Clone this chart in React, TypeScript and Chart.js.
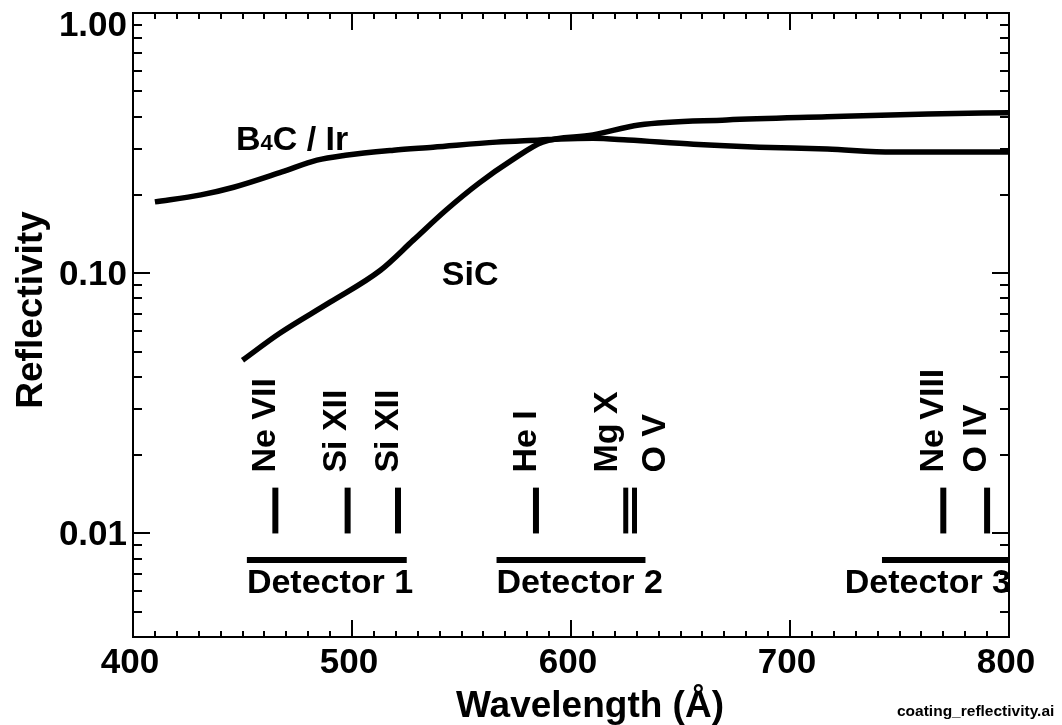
import React, { useEffect, useRef } from "react";
import { Chart, registerables } from "chart.js";

Chart.register(...registerables);

// ---------------- data ----------------
const B4C_WAVELENGTH = [410, 431, 446, 468, 484, 497, 519, 537, 566, 586, 595, 610, 626, 656, 686, 717, 747, 800];
const B4C_REFLECTIVITY = [0.188, 0.2, 0.214, 0.245, 0.272, 0.284, 0.297, 0.305, 0.319, 0.325, 0.328, 0.33, 0.325, 0.313, 0.305, 0.3, 0.292, 0.292];

const SIC_WAVELENGTH = [450, 467, 490, 513, 528, 543, 558, 573, 587, 610, 631, 671, 717, 763, 800];
const SIC_REFLECTIVITY = [0.0463, 0.0588, 0.0774, 0.1027, 0.134, 0.175, 0.222, 0.272, 0.319, 0.34, 0.371, 0.388, 0.399, 0.409, 0.414];

const LINE_NAMES = ["Ne VII", "Si XII", "Si XII", "He I", "Mg X", "O V", "Ne VIII", "O IV"];
const LINE_WAVELENGTHS = [465, 498, 521, 584, 625, 629, 770, 790];
const LINE_BOTTOM = 0.01;
const LINE_TOP = 0.015;

const DETECTOR_NAMES = ["Detector 1", "Detector 2", "Detector 3"];
const DETECTOR_START = [452, 566, 742];
const DETECTOR_END = [525, 634, 800];
const DETECTOR_LEVEL = 0.0079;

const X_MIN = 400;
const X_MAX = 800;
const X_TICKS = [400, 500, 600, 700, 800];
const X_TICK_LABELS = ["400", "500", "600", "700", "800"];
const Y_MIN = 0.004;
const Y_MAX = 1.0;
const Y_TICKS = [1.0, 0.1, 0.01];
const Y_TICK_LABELS = ["1.00", "0.10", "0.01"];

const CURVE_LABEL_B4C = { x: 447, y: 0.297 };
const CURVE_LABEL_SIC = { x: 541, y: 0.0899 };

const X_TITLE = "Wavelength (Å)";
const Y_TITLE = "Reflectivity";
const FILE_NAME = "coating_reflectivity.ai";

// ---------------- styles ----------------
const FONT = "'Liberation Sans', Arial, Helvetica, sans-serif";
const LABEL_NUDGE = [0, -2, 0, 0, -9, 30, 0, -1];
const LINE_WIDTHS = [6, 6, 6, 6, 5, 5, 6, 6];

const annotations = {
  id: "annotations",
  afterDraw(chart: any) {
    const ctx = chart.ctx as CanvasRenderingContext2D;
    const xs = chart.scales.x;
    const ys = chart.scales.y;
    const { left, right, top, bottom } = chart.chartArea;
    ctx.save();
    ctx.fillStyle = "#000";
    ctx.strokeStyle = "#000";

    // frame
    ctx.lineWidth = 2;
    ctx.strokeRect(left, top, right - left, bottom - top);

    // x ticks (bottom & top, inward)
    ctx.lineWidth = 2;
    for (let v = X_MIN + 10; v < X_MAX; v += 10) {
      const px = Math.round(xs.getPixelForValue(v)) + 0.0;
      const len = v % 100 === 0 ? 17 : 6;
      ctx.beginPath();
      ctx.moveTo(px, bottom);
      ctx.lineTo(px, bottom - len);
      ctx.moveTo(px, top);
      ctx.lineTo(px, top + len);
      ctx.stroke();
    }
    // y ticks (left & right, inward)
    for (let d = 0.001; d <= 1.0001; d *= 10) {
      for (let m = 1; m <= 9; m++) {
        const v = m * d;
        if (v < Y_MIN * 0.999 || v > Y_MAX * 1.001) continue;
        const py = Math.round(ys.getPixelForValue(v));
        if (py <= top + 1 || py >= bottom - 1) continue;
        const len = m === 1 ? 17 : 9;
        ctx.beginPath();
        ctx.moveTo(left, py);
        ctx.lineTo(left + len, py);
        ctx.moveTo(right, py);
        ctx.lineTo(right - len, py);
        ctx.stroke();
      }
    }

    // tick labels
    ctx.font = `bold 35px ${FONT}`;
    ctx.textAlign = "center";
    ctx.textBaseline = "alphabetic";
    X_TICKS.forEach((v, i) => {
      ctx.fillText(X_TICK_LABELS[i], xs.getPixelForValue(v) - 3, bottom + 36);
    });
    ctx.textAlign = "right";
    Y_TICKS.forEach((v, i) => {
      const py = Math.max(ys.getPixelForValue(v), top + 11);
      ctx.fillText(Y_TICK_LABELS[i], left - 6, py + 12);
    });

    // axis titles
    ctx.font = `bold 37px ${FONT}`;
    ctx.textAlign = "center";
    ctx.fillText(X_TITLE, 590, 717);
    ctx.save();
    ctx.translate(42, 310);
    ctx.rotate(-Math.PI / 2);
    ctx.fillText(Y_TITLE, 0, 0);
    ctx.restore();

    // emission line labels (rotated)
    ctx.font = `bold 34px ${FONT}`;
    ctx.textAlign = "left";
    const lineTopPx = ys.getPixelForValue(LINE_TOP);
    LINE_NAMES.forEach((name, i) => {
      const px = xs.getPixelForValue(LINE_WAVELENGTHS[i]) + LABEL_NUDGE[i];
      ctx.save();
      ctx.translate(px, lineTopPx - 15);
      ctx.rotate(-Math.PI / 2);
      ctx.fillText(name, 0, 0);
      ctx.restore();
    });

    // detector labels
    const detPy = ys.getPixelForValue(DETECTOR_LEVEL);
    DETECTOR_NAMES.forEach((name, i) => {
      if (i === DETECTOR_NAMES.length - 1) {
        ctx.textAlign = "right";
        ctx.fillText(name, xs.getPixelForValue(DETECTOR_END[i]) + 2, detPy + 33);
      } else {
        ctx.textAlign = "left";
        ctx.fillText(name, xs.getPixelForValue(DETECTOR_START[i]), detPy + 33);
      }
    });

    // curve labels
    ctx.textAlign = "left";
    let bx = xs.getPixelForValue(CURVE_LABEL_B4C.x);
    const by = ys.getPixelForValue(CURVE_LABEL_B4C.y);
    ctx.font = `bold 34px ${FONT}`;
    ctx.fillText("B", bx, by);
    bx += ctx.measureText("B").width;
    ctx.font = `bold 22px ${FONT}`;
    ctx.fillText("4", bx, by);
    bx += ctx.measureText("4").width;
    ctx.font = `bold 34px ${FONT}`;
    ctx.fillText("C / Ir", bx, by);

    ctx.fillText("SiC", xs.getPixelForValue(CURVE_LABEL_SIC.x), ys.getPixelForValue(CURVE_LABEL_SIC.y));

    // file name
    ctx.font = `bold 15.5px ${FONT}`;
    ctx.fillText(FILE_NAME, 897, 716);

    ctx.restore();
  },
};

function toPoints(xs: number[], ys: number[]) {
  return xs.map((x, i) => ({ x, y: ys[i] }));
}

export default function App() {
  const ref = useRef<HTMLCanvasElement>(null);

  useEffect(() => {
    const datasets: any[] = [
      {
        label: "B4C / Ir",
        data: toPoints(B4C_WAVELENGTH, B4C_REFLECTIVITY),
        borderColor: "#000",
        borderWidth: 5.5,
        pointRadius: 0,
        cubicInterpolationMode: "monotone",
        borderCapStyle: "butt",
      },
      {
        label: "SiC",
        data: toPoints(SIC_WAVELENGTH, SIC_REFLECTIVITY),
        borderColor: "#000",
        borderWidth: 5.5,
        pointRadius: 0,
        cubicInterpolationMode: "monotone",
        borderCapStyle: "butt",
      },
    ];
    LINE_WAVELENGTHS.forEach((w, i) => {
      datasets.push({
        label: LINE_NAMES[i],
        data: [
          { x: w, y: LINE_BOTTOM },
          { x: w, y: LINE_TOP },
        ],
        borderColor: "#000",
        borderWidth: LINE_WIDTHS[i],
        pointRadius: 0,
        borderCapStyle: "butt",
      });
    });
    DETECTOR_NAMES.forEach((name, i) => {
      datasets.push({
        label: name,
        data: [
          { x: DETECTOR_START[i], y: DETECTOR_LEVEL },
          { x: DETECTOR_END[i], y: DETECTOR_LEVEL },
        ],
        borderColor: "#000",
        borderWidth: 6,
        pointRadius: 0,
        borderCapStyle: "butt",
      });
    });

    const chart = new Chart(ref.current!, {
      type: "line",
      data: { datasets },
      options: {
        animation: false,
        responsive: false,
        maintainAspectRatio: false,
        layout: { padding: { left: 133, top: 13, right: 53, bottom: 88 } },
        plugins: { legend: { display: false }, tooltip: { enabled: false } },
        scales: {
          x: { type: "linear", min: X_MIN, max: X_MAX, display: false },
          y: { type: "logarithmic", min: Y_MIN, max: Y_MAX, display: false },
        },
      },
      plugins: [annotations],
    });
    return () => chart.destroy();
  }, []);

  return (
    <div style={{ position: "fixed", left: 0, top: 0, width: 1062, height: 725, background: "#fff" }}>
      <canvas ref={ref} width={1062} height={725} style={{ width: 1062, height: 725, display: "block" }} />
    </div>
  );
}
